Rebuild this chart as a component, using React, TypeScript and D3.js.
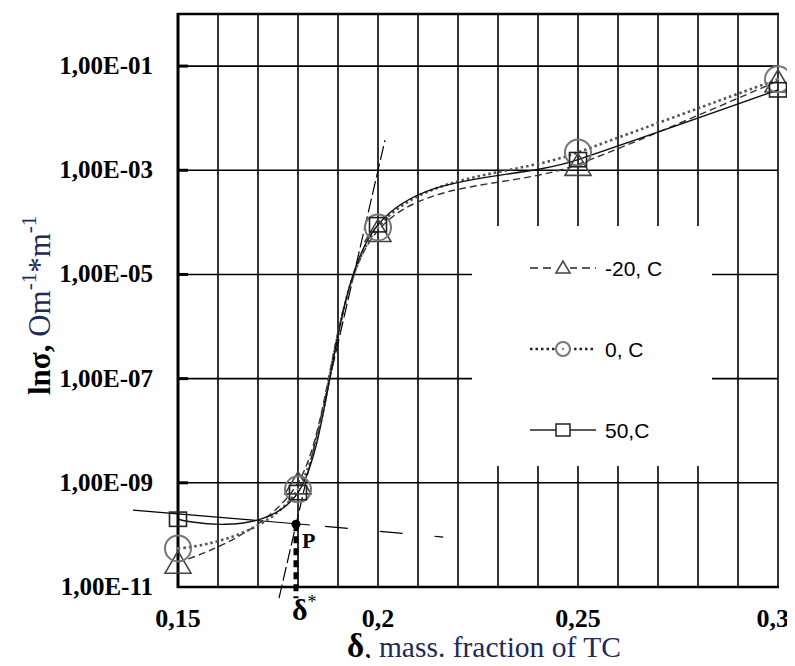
import React, { useEffect, useRef } from 'react';
import * as d3 from 'd3';

// mass fraction of TC
const fractions = [0.15, 0.18, 0.2, 0.25, 0.3];
// conductivity, Om^-1*m^-1
const minus20 = [3e-11, 1.0e-9, 7e-5, 1.3e-3, 5.2e-2];
const zero = [5.5e-11, 7.5e-10, 8e-5, 2.2e-3, 5.6e-2];
const plus50 = [2e-10, 6.5e-10, 9e-5, 1.6e-3, 3.5e-2];

const xTicks = [0.15, 0.2, 0.25, 0.3];
const xTickLabels = ['0,15', '0,2', '0,25', '0,3'];
const yTicks = [1e-1, 1e-3, 1e-5, 1e-7, 1e-9, 1e-11];
const yTickLabels = ['1,00E-01', '1,00E-03', '1,00E-05', '1,00E-07', '1,00E-09', '1,00E-11'];

const legendLabels = ['-20, C', '0, C', '50,C'];

// construction lines (data coords)
const flatTangent = [[0.13875, 3.0e-10], [0.183, 1.55e-10], [0.2163, 9.1e-11]];
const steepTangent = [[0.17525, 6.1e-12], [0.20175, 3.8e-3]];
const pointP = [0.1795, 1.6e-10];
const dropBottom = 6.1e-12;

const App = () => {
	const ref = useRef(null);

	useEffect(() => {
		const W = 795, H = 666;
		const left = 178, right = 778, top = 14, bottom = 587;

		d3.select(ref.current).selectAll('*').remove();
		const svg = d3.select(ref.current)
			.append('svg')
			.attr('width', W)
			.attr('height', H)
			.style('display', 'block')
			.style('background', '#fff');

		const x = d3.scaleLinear().domain([0.15, 0.3]).range([left, right]);
		const y = d3.scaleLog().domain([1e-11, 1]).range([bottom, top]);

		const serif = "'Liberation Serif', 'Times New Roman', serif";
		const sans = "'Liberation Sans', Arial, sans-serif";

		// grid
		const grid = svg.append('g');
		d3.range(16).forEach(i => {
			const v = 0.15 + i * 0.01;
			grid.append('line')
				.attr('x1', x(v)).attr('x2', x(v))
				.attr('y1', top).attr('y2', bottom)
				.attr('stroke', '#000').attr('stroke-width', 1.6);
		});
		yTicks.slice(0, 5).forEach(v => {
			grid.append('line')
				.attr('x1', left).attr('x2', right)
				.attr('y1', y(v)).attr('y2', y(v))
				.attr('stroke', '#000').attr('stroke-width', 1.6);
		});
		// frame
		svg.append('line').attr('x1', left - 1).attr('x2', right + 1).attr('y1', top).attr('y2', top)
			.attr('stroke', '#000').attr('stroke-width', 2.6);
		svg.append('line').attr('x1', left).attr('x2', left).attr('y1', top - 1).attr('y2', bottom + 1)
			.attr('stroke', '#000').attr('stroke-width', 3);
		svg.append('line').attr('x1', left - 1).attr('x2', right + 1).attr('y1', bottom).attr('y2', bottom)
			.attr('stroke', '#000').attr('stroke-width', 2.6);
		yTicks.slice(0, 5).forEach(v => {
			svg.append('line').attr('x1', left).attr('x2', left + 10).attr('y1', y(v)).attr('y2', y(v))
				.attr('stroke', '#000').attr('stroke-width', 3);
		});

		// legend box hides the grid
		svg.append('rect')
			.attr('x', 472).attr('y', 226).attr('width', 240).attr('height', 240)
			.attr('fill', '#fff');

		// tick labels
		yTicks.forEach((v, i) => {
			svg.append('text')
				.attr('x', 153).attr('y', y(v) + 8)
				.attr('text-anchor', 'end')
				.style('font-family', serif).style('font-weight', 'bold').style('font-size', '25px')
				.text(yTickLabels[i]);
		});
		xTicks.forEach((v, i) => {
			const last = i === xTicks.length - 1;
			svg.append('text')
				.attr('x', last ? 789 : x(v)).attr('y', 627)
				.attr('text-anchor', last ? 'end' : 'middle')
				.style('font-family', serif).style('font-weight', 'bold').style('font-size', '26px')
				.text(xTickLabels[i]);
		});

		// construction lines
		const px = d => x(d[0]);
		const py = d => y(d[1]);
		svg.append('line')
			.attr('x1', px(flatTangent[0])).attr('y1', py(flatTangent[0]))
			.attr('x2', px(flatTangent[1])).attr('y2', py(flatTangent[1]))
			.attr('stroke', '#000').attr('stroke-width', 1.2);
		svg.append('line')
			.attr('x1', px(flatTangent[1])).attr('y1', py(flatTangent[1]))
			.attr('x2', px(flatTangent[2])).attr('y2', py(flatTangent[2]))
			.attr('stroke', '#000').attr('stroke-width', 1.2)
			.attr('stroke-dasharray', '0,15,23,17');
		svg.append('line')
			.attr('x1', px(steepTangent[0])).attr('y1', py(steepTangent[0]))
			.attr('x2', px(steepTangent[1])).attr('y2', py(steepTangent[1]))
			.attr('stroke', '#000').attr('stroke-width', 1.2)
			.attr('stroke-dasharray', '14,4');
		svg.append('line')
			.attr('x1', x(pointP[0])).attr('y1', y(pointP[1]))
			.attr('x2', x(pointP[0])).attr('y2', y(dropBottom))
			.attr('stroke', '#000').attr('stroke-width', 5)
			.attr('stroke-dasharray', '7,5');
		svg.append('circle')
			.attr('cx', x(pointP[0])).attr('cy', y(pointP[1])).attr('r', 4.5)
			.attr('fill', '#000');
		svg.append('text')
			.attr('x', x(pointP[0]) + 6).attr('y', y(pointP[1]) + 24)
			.style('font-family', serif).style('font-weight', 'bold').style('font-size', '22px')
			.text('P');
		const dl = svg.append('text')
			.attr('x', x(pointP[0]) - 4).attr('y', 620)
			.style('font-family', serif).style('font-weight', 'bold').style('font-size', '30px');
		dl.append('tspan').text('δ');
		dl.append('tspan').attr('dy', -12).style('font-size', '18px').style('font-weight', 'normal').text('*');

		// series
		const line = d3.line()
			.x((d, i) => x(fractions[i]))
			.y(d => y(d))
			.curve(d3.curveCatmullRom.alpha(0));

		const styles = [
			{ data: minus20, dash: '7,4', width: 1.4, color: '#333' },
			{ data: zero, dash: '2.5,3', width: 2.6, color: '#555' },
			{ data: plus50, dash: null, width: 1.4, color: '#111' },
		];
		styles.forEach(s => {
			svg.append('path')
				.attr('d', line(s.data))
				.attr('fill', 'none')
				.attr('stroke', s.color)
				.attr('stroke-width', s.width)
				.attr('stroke-dasharray', s.dash);
		});

		const triangle = (g, cx, cy, w) => {
			const h = w * 0.85;
			g.append('path')
				.attr('d', `M${cx},${cy - h / 2}L${cx + w / 2},${cy + h / 2}L${cx - w / 2},${cy + h / 2}Z`)
				.attr('fill', 'none').attr('stroke', '#444').attr('stroke-width', 1.6);
		};
		const circle = (g, cx, cy, r) => {
			g.append('circle').attr('cx', cx).attr('cy', cy).attr('r', r)
				.attr('fill', 'none').attr('stroke', '#777').attr('stroke-width', 2);
			g.append('circle').attr('cx', cx).attr('cy', cy).attr('r', 1.2).attr('fill', '#888');
		};
		const square = (g, cx, cy, w) => {
			g.append('rect').attr('x', cx - w / 2).attr('y', cy - w * 0.42).attr('width', w).attr('height', w * 0.84)
				.attr('fill', 'none').attr('stroke', '#222').attr('stroke-width', 1.6);
		};

		const marks = svg.append('g');
		fractions.forEach((f, i) => {
			triangle(marks, x(f), y(minus20[i]), 26);
			circle(marks, x(f), y(zero[i]), 13);
			square(marks, x(f), y(plus50[i]), 17);
		});

		// legend
		const rows = [268, 349, 430];
		const lg = svg.append('g');
		rows.forEach((ry, i) => {
			lg.append('line')
				.attr('x1', 530).attr('x2', 596).attr('y1', ry).attr('y2', ry)
				.attr('stroke', '#222').attr('stroke-width', i === 1 ? 2.6 : 1.3)
				.attr('stroke-dasharray', i === 0 ? '8,5' : i === 1 ? '2.5,3' : null);
			if (i === 0) {
				lg.append('rect').attr('x', 556).attr('y', ry - 7).attr('width', 14).attr('height', 13).attr('fill', '#fff');
				triangle(lg, 563, ry - 1, 14);
			}
			if (i === 1) {
				lg.append('circle').attr('cx', 563).attr('cy', ry).attr('r', 7).attr('fill', '#fff');
				circle(lg, 563, ry, 7);
			}
			if (i === 2) {
				lg.append('rect').attr('x', 556).attr('y', ry - 6).attr('width', 14).attr('height', 12)
					.attr('fill', '#fff').attr('stroke', '#222').attr('stroke-width', 1.5);
			}
			lg.append('text')
				.attr('x', 605).attr('y', ry + 8)
				.style('font-family', sans).style('font-size', '21px')
				.text(legendLabels[i]);
		});

		// axis titles
		const xt = svg.append('text')
			.attr('x', 347).attr('y', 657)
			.style('font-family', serif).style('font-size', '29.5px');
		xt.append('tspan').style('font-weight', 'bold').style('font-size', '33px').attr('fill', '#000').text('δ');
		xt.append('tspan').attr('fill', '#000').text(',');
		xt.append('tspan').attr('fill', '#1d2a5a').text(' mass. fraction of TC');

		const yt = svg.append('text')
			.attr('transform', 'translate(50,395) rotate(-90)')
			.style('font-family', serif).style('font-size', '31px');
		yt.append('tspan').style('font-weight', 'bold').attr('fill', '#000').text('lnσ,');
		yt.append('tspan').attr('fill', '#1d2a5a').text(' Om');
		yt.append('tspan').attr('dy', -14).style('font-size', '21px').attr('fill', '#1d2a5a').text('-1');
		yt.append('tspan').attr('dy', 14).attr('fill', '#1d2a5a').text('*m');
		yt.append('tspan').attr('dy', -14).style('font-size', '21px').attr('fill', '#1d2a5a').text('-1');
	}, []);

	return <div ref={ref} style={{ margin: -8 }}></div>;
};

export default App;
